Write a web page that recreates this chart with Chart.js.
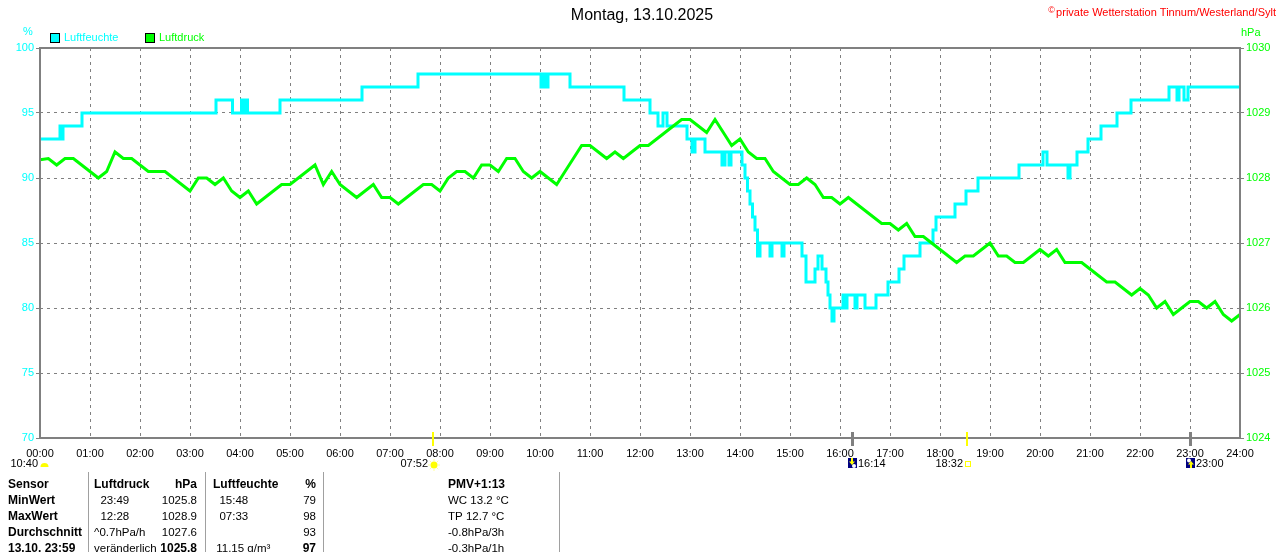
<!DOCTYPE html>
<html lang="de">
<head>
<meta charset="UTF-8">
<title>Luftfeuchte / Luftdruck</title>
<script src="https://cdn.jsdelivr.net/npm/chart.js"></script>
<style>
  body { margin: 0; background: #fff; }
  #chart { display: block; }
</style>
</head>
<body>
<canvas id="chart" width="1280" height="552"></canvas>
<script>
// Luftfeuchte: Zeitpunkt der Aenderung (Stunden) und neuer Wert (%)
const humHours = [0, 0.40, 0.43, 0.46, 0.84, 3.52, 3.85, 4.03, 4.07, 4.10,
  4.15, 4.80, 6.44, 7.56, 10.02, 10.06, 10.10, 10.16, 10.60, 11.68,
  12.20, 12.36, 12.46, 12.54, 12.94, 13.04, 13.10, 13.30, 13.64, 13.70,
  13.78, 13.82, 14.04, 14.10, 14.15, 14.20, 14.25, 14.30, 14.35, 14.40,
  14.60, 14.64, 14.84, 14.88, 15.24, 15.32, 15.50, 15.56, 15.64, 15.72,
  15.76, 15.80, 15.84, 15.88, 16.06, 16.10, 16.14, 16.30, 16.34, 16.50,
  16.72, 16.96, 17.18, 17.28, 17.60, 17.86, 17.92, 18.30, 18.52, 18.76,
  19.58, 20.06, 20.14, 20.56, 20.60, 20.74, 20.96, 21.22, 21.54, 21.82,
  22.58, 22.74, 22.78, 22.88, 22.96, 24];
const humValues = [93, 94, 93, 94, 95, 96, 95, 96, 95, 96,
  95, 96, 97, 98, 97, 98, 97, 98, 97, 96,
  95, 94, 95, 94, 93, 92, 93, 92, 91, 92,
  91, 92, 91, 90, 89, 88, 87, 86, 84, 85,
  84, 85, 84, 85, 84, 82, 83, 84, 83, 82,
  81, 80, 79, 80, 81, 80, 81, 80, 81, 80,
  81, 82, 83, 84, 85, 86, 87, 88, 89, 90,
  91, 92, 91, 90, 91, 92, 93, 94, 95, 96,
  97, 96, 97, 96, 97, 97];

// Luftdruck alle 10 Minuten ab 00:00 (hPa)
const pressValues = [
  1028.28, 1028.3, 1028.2, 1028.3, 1028.3, 1028.2,
  1028.1, 1028.0, 1028.1, 1028.4, 1028.3, 1028.3,
  1028.2, 1028.1, 1028.1, 1028.1, 1028.0, 1027.9,
  1027.8, 1028.0, 1028.0, 1027.9, 1028.0, 1027.8,
  1027.7, 1027.8, 1027.6, 1027.7, 1027.8, 1027.9,
  1027.9, 1028.0, 1028.1, 1028.2, 1027.9, 1028.1,
  1027.9, 1027.8, 1027.7, 1027.8, 1027.9, 1027.7,
  1027.7, 1027.6, 1027.7, 1027.8, 1027.9, 1027.9,
  1027.8, 1028.0, 1028.1, 1028.1, 1028.0, 1028.2,
  1028.2, 1028.1, 1028.3, 1028.3, 1028.1, 1028.0,
  1028.1, 1028.0, 1027.9, 1028.1, 1028.3, 1028.5,
  1028.5, 1028.4, 1028.3, 1028.4, 1028.3, 1028.4,
  1028.5, 1028.5, 1028.6, 1028.7, 1028.8, 1028.9,
  1028.9, 1028.8, 1028.7, 1028.9, 1028.7, 1028.5,
  1028.6, 1028.4, 1028.3, 1028.3, 1028.1, 1028.0,
  1027.9, 1027.9, 1028.0, 1027.9, 1027.7, 1027.7,
  1027.6, 1027.7, 1027.6, 1027.5, 1027.4, 1027.3,
  1027.3, 1027.2, 1027.3, 1027.1, 1027.1, 1027.0,
  1026.9, 1026.8, 1026.7, 1026.8, 1026.8, 1026.9,
  1027.0, 1026.8, 1026.8, 1026.7, 1026.7, 1026.8,
  1026.9, 1026.8, 1026.9, 1026.7, 1026.7, 1026.7,
  1026.6, 1026.5, 1026.4, 1026.4, 1026.3, 1026.2,
  1026.3, 1026.2, 1026.0, 1026.1, 1025.9, 1026.0,
  1026.1, 1026.1, 1026.0, 1026.1, 1025.9, 1025.8,
  1025.9];

const hourLabels = ['00:00', '01:00', '02:00', '03:00', '04:00', '05:00', '06:00',
  '07:00', '08:00', '09:00', '10:00', '11:00', '12:00', '13:00', '14:00', '15:00',
  '16:00', '17:00', '18:00', '19:00', '20:00', '21:00', '22:00', '23:00', '24:00'];

// Sonne/Mond: Auf- und Untergang
const eventLabels = ['07:52', '16:14', '18:32', '23:00'];
const eventHours = [7 + 52 / 60, 16 + 14 / 60, 18 + 32 / 60, 23];
const eventKinds = ['sunrise', 'moonset', 'sunset', 'moonrise'];

const tableRows = [
  ['Sensor', 'Luftdruck', 'hPa', 'Luftfeuchte', '%', 'PMV+1:13'],
  ['MinWert', '  23:49', '1025.8', '  15:48', '79', 'WC 13.2 °C'],
  ['MaxWert', '  12:28', '1028.9', '  07:33', '98', 'TP 12.7 °C'],
  ['Durchschnitt', '^0.7hPa/h', '1027.6', '', '93', '-0.8hPa/3h'],
  ['13.10. 23:59', 'veränderlich', '1025.8', ' 11.15 g/m³', '97', '-0.3hPa/1h']
];
const tableBold = [
  [1, 1, 1, 1, 1, 1],
  [1, 0, 0, 0, 0, 0],
  [1, 0, 0, 0, 0, 0],
  [1, 0, 0, 0, 0, 0],
  [1, 0, 1, 0, 1, 0]
];

const FONT = "'Liberation Sans', Arial, sans-serif";
const CYAN = '#00ffff';
const GREEN = '#00ff00';
const GRID = '#808080';

function drawSun(ctx, cx, cy) {
  ctx.strokeStyle = '#ffff99';
  ctx.lineWidth = 1;
  for (let k = 0; k < 8; k++) {
    const a = k * Math.PI / 4;
    ctx.beginPath();
    ctx.moveTo(cx + Math.cos(a) * 4, cy + Math.sin(a) * 4);
    ctx.lineTo(cx + Math.cos(a) * 6, cy + Math.sin(a) * 6);
    ctx.stroke();
  }
  ctx.fillStyle = '#ffff00';
  ctx.beginPath();
  ctx.arc(cx, cy, 3.5, 0, Math.PI * 2);
  ctx.fill();
}

function drawMoonBox(ctx, left, top, up) {
  ctx.fillStyle = '#000080';
  ctx.fillRect(left, top, 9, 10);
  ctx.fillStyle = '#ffffff';
  ctx.beginPath();
  ctx.arc(up ? left + 3 : left + 6, up ? top + 2.5 : top + 8, 2, 0, Math.PI * 2);
  ctx.fill();
  ctx.fillStyle = '#ffff00';
  ctx.beginPath();
  if (up) {
    ctx.moveTo(left + 5, top + 3);
    ctx.lineTo(left + 8, top + 6.5);
    ctx.lineTo(left + 2, top + 6.5);
    ctx.closePath();
    ctx.fill();
    ctx.fillRect(left + 4, top + 6, 2, 4);
  } else {
    ctx.fillRect(left + 3, top, 2, 4);
    ctx.moveTo(left + 1, top + 3.5);
    ctx.lineTo(left + 7, top + 3.5);
    ctx.lineTo(left + 4, top + 7);
    ctx.closePath();
    ctx.fill();
  }
}

const decor = {
  id: 'decor',
  afterDraw(chart) {
    const ctx = chart.ctx;
    const a = chart.chartArea;
    const xs = chart.scales.x;
    ctx.save();

    // Rahmen
    ctx.strokeStyle = GRID;
    ctx.lineWidth = 2;
    ctx.setLineDash([]);
    ctx.strokeRect(a.left, a.top, a.right - a.left, a.bottom - a.top);

    // Titel
    ctx.textBaseline = 'middle';
    ctx.fillStyle = '#000';
    ctx.font = '16px ' + FONT;
    ctx.textAlign = 'center';
    ctx.fillText('Montag, 13.10.2025', 642, 16);

    ctx.fillStyle = '#ff0000';
    ctx.font = '11px ' + FONT;
    ctx.textAlign = 'right';
    ctx.fillText('private Wetterstation Tinnum/Westerland/Sylt', 1276, 13);
    ctx.font = '9px ' + FONT;
    ctx.fillText('©', 1055, 11);

    // Einheiten
    ctx.font = '11px ' + FONT;
    ctx.textAlign = 'left';
    ctx.fillStyle = CYAN;
    ctx.fillText('%', 23, 32);
    ctx.fillStyle = GREEN;
    ctx.fillText('hPa', 1241, 33);

    // Legende
    const legend = [['Luftfeuchte', CYAN, 50], ['Luftdruck', GREEN, 145]];
    legend.forEach(([txt, col, lx]) => {
      ctx.fillStyle = col;
      ctx.fillRect(lx, 33, 10, 10);
      ctx.strokeStyle = '#000';
      ctx.lineWidth = 1;
      ctx.strokeRect(lx + 0.5, 33.5, 9, 9);
      ctx.fillStyle = col;
      ctx.fillText(txt, lx + 14, 38);
    });

    // Sonne / Mond Markierungen
    ctx.font = '11px ' + FONT;
    ctx.fillStyle = '#000';
    ctx.textAlign = 'right';
    ctx.fillText('10:40', 38, 464);
    ctx.fillStyle = '#ffff00';
    ctx.beginPath();
    ctx.arc(44.5, 467, 4, Math.PI, 0);
    ctx.fill();

    eventHours.forEach((h, i) => {
      const ex = Math.round(xs.getPixelForValue(h));
      const kind = eventKinds[i];
      const sun = kind.startsWith('sun');
      ctx.fillStyle = sun ? '#ffff00' : GRID;
      ctx.fillRect(ex - 1, a.bottom - 6, sun ? 2 : 3, 14);
      ctx.fillStyle = '#000';
      if (kind === 'sunrise') {
        ctx.textAlign = 'right';
        ctx.fillText(eventLabels[i], ex - 5, 464);
        drawSun(ctx, ex + 1, 465);
      } else if (kind === 'sunset') {
        ctx.textAlign = 'right';
        ctx.fillText(eventLabels[i], ex - 4, 464);
        ctx.strokeStyle = '#ffff00';
        ctx.lineWidth = 1;
        ctx.strokeRect(ex - 1.5, 461.5, 5, 5);
      } else {
        drawMoonBox(ctx, ex - 4, 458, kind === 'moonrise');
        ctx.fillStyle = '#000';
        ctx.textAlign = 'left';
        ctx.fillText(eventLabels[i], ex + 6, 464);
      }
    });

    // Tabelle
    ctx.strokeStyle = '#a0a0a0';
    ctx.lineWidth = 1;
    [88, 205, 323, 559].forEach(sx => {
      ctx.beginPath();
      ctx.moveTo(sx + 0.5, 472);
      ctx.lineTo(sx + 0.5, 552);
      ctx.stroke();
    });
    const colX = [8, 94, 197, 213, 316, 448];
    const colAlign = ['left', 'left', 'right', 'left', 'right', 'left'];
    tableRows.forEach((row, r) => {
      const ty = 485 + r * 16;
      row.forEach((txt, c) => {
        ctx.font = (tableBold[r][c] ? 'bold 12px ' : '11.5px ') + FONT;
        ctx.textAlign = colAlign[c];
        ctx.fillStyle = '#000';
        ctx.fillText(txt, colX[c], ty);
      });
    });
    ctx.restore();
  }
};

new Chart(document.getElementById('chart'), {
  type: 'line',
  data: {
    datasets: [
      {
        label: 'Luftdruck',
        data: pressValues.map((p, i) => ({ x: i / 6, y: p })),
        yAxisID: 'y2',
        borderColor: GREEN,
        borderWidth: 3,
        pointRadius: 0,
        tension: 0
      },
      {
        label: 'Luftfeuchte',
        data: humHours.map((h, i) => ({ x: h, y: humValues[i] })),
        yAxisID: 'y',
        stepped: 'before',
        borderColor: CYAN,
        borderWidth: 3,
        pointRadius: 0
      }
    ]
  },
  options: {
    responsive: false,
    animation: false,
    events: [],
    layout: { padding: { top: 48, left: 0, right: 0, bottom: 0 } },
    plugins: { legend: { display: false }, tooltip: { enabled: false } },
    scales: {
      x: {
        type: 'linear',
        min: 0,
        max: 24,
        afterFit: s => { s.height = 114; },
        ticks: {
          stepSize: 1,
          autoSkip: false,
          maxRotation: 0,
          padding: 9,
          color: '#000',
          font: { family: FONT, size: 11 },
          callback: (v, i) => hourLabels[i]
        },
        grid: { color: GRID, lineWidth: 1, drawTicks: false },
        border: { display: false, dash: [3, 4] }
      },
      y: {
        position: 'left',
        min: 70,
        max: 100,
        afterFit: s => { s.width = 40; },
        ticks: {
          stepSize: 5,
          padding: 2,
          color: CYAN,
          font: { family: FONT, size: 11 },
          callback: v => String(v)
        },
        grid: { color: GRID, lineWidth: 1, tickLength: 4, tickColor: GRID },
        border: { display: false, dash: [3, 4] }
      },
      y2: {
        position: 'right',
        min: 1024,
        max: 1030,
        afterFit: s => { s.width = 40; },
        ticks: {
          stepSize: 1,
          padding: 2,
          color: GREEN,
          font: { family: FONT, size: 11 },
          callback: v => String(v)
        },
        grid: { drawOnChartArea: false, tickLength: 4, tickColor: GRID },
        border: { display: false }
      }
    }
  },
  plugins: [decor]
});
</script>
</body>
</html>
